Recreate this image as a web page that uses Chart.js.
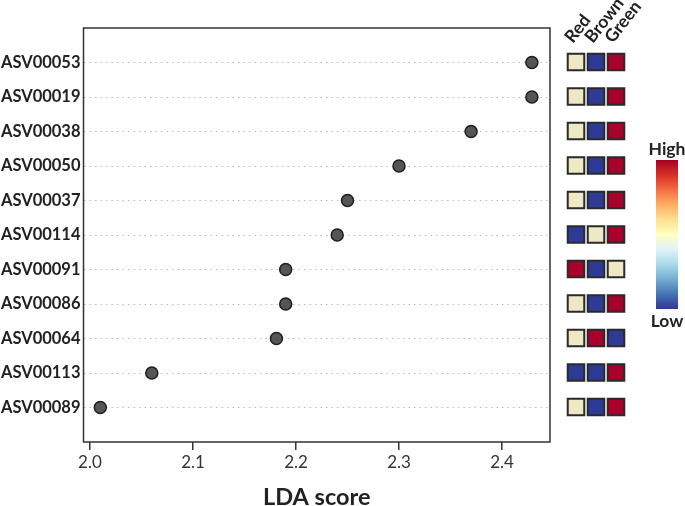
<!DOCTYPE html>
<html>
<head>
<meta charset="UTF-8">
<title>LDA score</title>
<script src="https://cdn.jsdelivr.net/npm/chart.js"></script>
<style>
  body { margin: 0; background: #fff; }
  #wrap { position: relative; width: 685px; height: 506px; font-family: Lato, sans-serif; }
  #main { position: absolute; left: 0; top: 0; }
  #heat { position: absolute; left: 555px; top: 0; }
  #bar {
    position: absolute; left: 656px; top: 160px; width: 22px; height: 149px;
    background: linear-gradient(to bottom, #a50026, #d73027, #f46d43, #fdae61, #fee090, #ffffbf, #e0f3f8, #abd9e9, #74add1, #4575b4, #313695);
  }
  .lbl { position: absolute; font-weight: bold; font-size: 17.5px; color: #222; width: 60px; text-align: center; }
</style>
</head>
<body>
<div id="wrap">
  <canvas id="main" width="560" height="506"></canvas>
  <canvas id="heat" width="95" height="506"></canvas>
  <div class="lbl" style="left:637px; top:138px;">High</div>
  <div id="bar"></div>
  <div class="lbl" style="left:637px; top:310px;">Low</div>
</div>
<script>
  // taxa, top to bottom
  const taxa = ['ASV00053', 'ASV00019', 'ASV00038', 'ASV00050', 'ASV00037', 'ASV00114',
                'ASV00091', 'ASV00086', 'ASV00064', 'ASV00113', 'ASV00089'];
  const lda = [2.429, 2.429, 2.370, 2.300, 2.250, 2.240, 2.190, 2.190, 2.181, 2.060, 2.010];
  const xTicks = [2.0, 2.1, 2.2, 2.3, 2.4];

  // relative abundance per group: 0 = low, 1 = mid, 2 = high
  const groups = ['Red', 'Brown', 'Green'];
  const redLevel   = [1, 1, 1, 1, 1, 0, 2, 1, 1, 0, 1];
  const brownLevel = [0, 0, 0, 0, 0, 1, 0, 0, 2, 0, 0];
  const greenLevel = [2, 2, 2, 2, 2, 2, 1, 2, 0, 2, 2];
  const levelColors = ['#2e3b96', '#efe8c4', '#a8002b'];

  const labelFont = { family: 'Lato', size: 16.5, weight: 'bold' };

  const boxPlugin = {
    id: 'box',
    afterDraw(chart) {
      const a = chart.chartArea, ctx = chart.ctx;
      ctx.save();
      ctx.strokeStyle = '#333';
      ctx.lineWidth = 1.5;
      ctx.strokeRect(a.left, a.top, a.right - a.left, a.bottom - a.top);
      ctx.restore();
    }
  };

  // rotated column labels above the heat map
  const groupLabels = {
    id: 'groupLabels',
    afterDraw(chart) {
      const ctx = chart.ctx, xs = chart.scales.x;
      ctx.save();
      ctx.fillStyle = '#222';
      ctx.font = 'bold 17.5px Lato';
      ctx.textBaseline = 'alphabetic';
      groups.forEach((g, i) => {
        const px = xs.getPixelForValue(i);
        ctx.save();
        ctx.translate(px - 3, 44);
        ctx.rotate(-52 * Math.PI / 180);
        ctx.fillText(g, 0, 0);
        ctx.restore();
      });
      ctx.restore();
    }
  };

  new Chart(document.getElementById('main'), {
    type: 'scatter',
    data: {
      datasets: [{
        data: taxa.map((t, i) => ({ x: lda[i], y: i })),
        pointRadius: 6,
        pointHoverRadius: 6,
        backgroundColor: '#555',
        borderColor: '#1e1e1e',
        borderWidth: 1.5
      }]
    },
    options: {
      responsive: false,
      animation: false,
      layout: { autoPadding: false, padding: { top: 28, right: 10 } },
      plugins: { legend: { display: false }, tooltip: { enabled: false } },
      scales: {
        x: {
          min: 1.9937,
          max: 2.4466,
          afterBuildTicks: s => { s.ticks = xTicks.map(v => ({ value: v })); },
          afterFit: s => { s.height = 64; },
          grid: { drawOnChartArea: false, drawTicks: true, tickLength: 8, color: '#333', lineWidth: 1.5 },
          border: { display: false },
          ticks: { color: '#333', font: { family: 'Lato', size: 17 }, padding: 2,
                   callback: v => v.toFixed(1) },
          title: { display: true, text: 'LDA score', color: '#222',
                   font: { family: 'Lato', size: 23.5, weight: 'bold' }, padding: { top: 8, bottom: -6 } }
        },
        y: {
          reverse: true,
          min: -1,
          max: 11,
          afterBuildTicks: s => { s.ticks = taxa.map((t, i) => ({ value: i })); },
          afterFit: s => { s.width = 83.5; },
          grid: { drawTicks: false, color: '#bdbdbd', lineWidth: 1 },
          border: { display: false, dash: [1.5, 4] },
          ticks: { color: '#222', font: labelFont, padding: 3, callback: v => taxa[v] }
        }
      }
    },
    plugins: [boxPlugin]
  });

  const levels = [redLevel, brownLevel, greenLevel];
  new Chart(document.getElementById('heat'), {
    type: 'scatter',
    data: {
      datasets: groups.map((g, c) => ({
        data: taxa.map((t, i) => ({ x: g, y: i })),
        pointStyle: 'rect',
        pointRadius: 11.7,
        pointHoverRadius: 11.7,
        backgroundColor: levels[c].map(l => levelColors[l]),
        borderColor: '#2a2a2a',
        borderWidth: 2
      }))
    },
    options: {
      responsive: false,
      animation: false,
      layout: { autoPadding: false, padding: { left: 11, right: 24, top: 0, bottom: 81.75 } },
      plugins: { legend: { display: false }, tooltip: { enabled: false } },
      scales: {
        x: {
          type: 'category',
          labels: groups,
          position: 'top',
          offset: true,
          afterFit: s => { s.height = 44.75; },
          grid: { display: false },
          border: { display: false },
          ticks: { display: false }
        },
        y: {
          display: false,
          reverse: true,
          min: -0.5,
          max: 10.5
        }
      }
    },
    plugins: [groupLabels]
  });
</script>
</body>
</html>
